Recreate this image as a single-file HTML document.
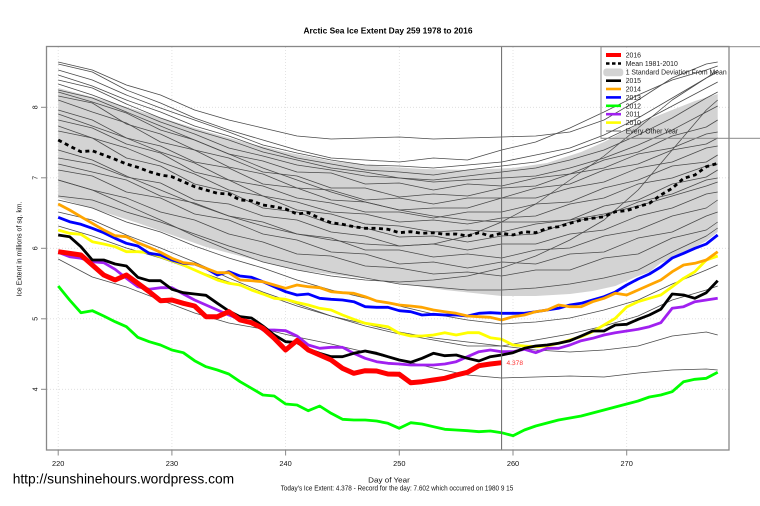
<!DOCTYPE html>
<html><head><meta charset="utf-8"><style>
html,body{margin:0;padding:0;background:#fff;}
svg{display:block;font-family:"Liberation Sans",Arial,sans-serif;}
</style></head><body>
<svg width="760" height="506" viewBox="0 0 760 506" xmlns="http://www.w3.org/2000/svg">
<rect x="0" y="0" width="760" height="506" fill="#fff"/>
<text x="388" y="33.5" font-size="8.4" font-weight="bold" text-anchor="middle" textLength="169" lengthAdjust="spacingAndGlyphs">Arctic Sea Ice Extent Day 259 1978 to 2016</text>
<g stroke="#dcdcdc" stroke-width="0.8" stroke-dasharray="1 2" fill="none">
<line x1="58.2" y1="47" x2="58.2" y2="450"/><line x1="171.9" y1="47" x2="171.9" y2="450"/><line x1="285.6" y1="47" x2="285.6" y2="450"/><line x1="399.3" y1="47" x2="399.3" y2="450"/><line x1="513" y1="47" x2="513" y2="450"/><line x1="626.7" y1="47" x2="626.7" y2="450"/>
<line x1="47" y1="107.3" x2="729" y2="107.3"/><line x1="47" y1="177.8" x2="729" y2="177.8"/><line x1="47" y1="248.3" x2="729" y2="248.3"/><line x1="47" y1="318.8" x2="729" y2="318.8"/><line x1="47" y1="389.3" x2="729" y2="389.3"/>
</g>
<polygon fill="#d3d3d3" points="58.2,88 103.7,100 149.2,114 194.6,128 240.1,141 285.6,152 331.1,161 376.6,166 422,169 467.5,170 513,168 547.1,163 581.2,152 604,142 626.7,130 649.4,119 672.2,110 694.9,101 717.7,94 717.7,232 706.3,241 694.9,247 683.6,254 672.2,259 660.8,263 649.4,272 638.1,276 626.7,281 615.3,286 592.6,291 569.9,294 535.7,296 501.6,296 444.8,290 376.6,280 297,270 274.2,265 206,247 137.8,223 103.7,212 58.2,198"/>
<g fill="none" stroke="#4a4a4a" stroke-width="0.75" stroke-linejoin="round">
<polyline points="58.2,62 92.3,70 126.4,85 160.5,95 194.6,110 228.8,120 262.9,128 297,136 331.1,139 365.2,138 399.3,137 433.4,139 467.5,138 501.6,137 535.7,136 569.9,132 604,120 638.1,100 672.2,78 706.3,64 717.7,62"/>
<polyline points="58.2,64 92.3,72 126.4,90 160.5,103 194.6,118 228.8,130 262.9,140 297,150 331.1,158 365.2,160 399.3,162 433.4,158 467.5,160 501.6,150 535.7,142 569.9,128 604,112 638.1,95 672.2,80 706.3,70 717.7,66"/>
<polyline points="58.2,70 92.3,80 126.4,95 160.5,108 194.6,120 228.8,132 262.9,145 297,153 331.1,160 365.2,165 399.3,166 433.4,168 467.5,165 501.6,162 535.7,155 569.9,148 604,135 638.1,118 672.2,98 706.3,78 717.7,72"/>
<polyline points="58.2,75 92.3,86 126.4,100 160.5,112 194.6,126 228.8,136 262.9,148 297,158 331.1,164 365.2,170 399.3,172 433.4,175 467.5,170 501.6,166 535.7,162 569.9,152 604,140 638.1,124 672.2,106 706.3,88 717.7,82"/>
<polyline points="58.2,80 92.3,88 126.4,104 160.5,118 194.6,130 228.8,140 262.9,152 297,160 331.1,168 365.2,172 399.3,178 433.4,180 467.5,176 501.6,172 535.7,168 569.9,160 604,150 638.1,135 672.2,118 706.3,98 717.7,92"/>
<polyline points="58.2,84 92.3,95 126.4,108 160.5,122 194.6,134 228.8,148 262.9,156 297,165 331.1,170 365.2,176 399.3,178 433.4,182 467.5,180 501.6,178 535.7,176 569.9,168 604,158 638.1,145 672.2,130 706.3,112 717.7,106"/>
<polyline points="58.2,92 92.3,102 126.4,113 160.5,130 194.6,140 228.8,154 262.9,161 297,172 331.1,173 365.2,184 399.3,183 433.4,190 467.5,184 501.6,186 535.7,178 569.9,174 604,160 638.1,152 672.2,136 706.3,127 717.7,120"/>
<polyline points="58.2,96 92.3,103 126.4,124 160.5,134 194.6,150 228.8,158 262.9,172 297,176 331.1,188 365.2,188 399.3,197 433.4,194 467.5,196 501.6,188 535.7,186 569.9,174 604,168 638.1,154 672.2,148 706.3,134 717.7,132"/>
<polyline points="58.2,100 92.3,112 126.4,123 160.5,142 194.6,150 228.8,167 262.9,174 297,188 331.1,190 365.2,200 399.3,198 433.4,204 467.5,198 501.6,198 535.7,188 569.9,184 604,170 638.1,164 672.2,150 706.3,144 717.7,138"/>
<polyline points="58.2,110 92.3,120 126.4,138 160.5,146 194.6,162 228.8,168 262.9,184 297,188 331.1,200 365.2,202 399.3,210 433.4,208 467.5,208 501.6,198 535.7,198 569.9,188 604,182 638.1,168 672.2,162 706.3,148 717.7,146"/>
<polyline points="58.2,114 92.3,126 126.4,138 160.5,152 194.6,163 228.8,180 262.9,186 297,198 331.1,203 365.2,212 399.3,212 433.4,218 467.5,212 501.6,212 535.7,204 569.9,202 604,188 638.1,180 672.2,166 706.3,162 717.7,155"/>
<polyline points="58.2,120 92.3,128 126.4,144 160.5,153 194.6,172 228.8,180 262.9,196 297,202 331.1,212 365.2,214 399.3,222 433.4,220 467.5,224 501.6,218 535.7,216 569.9,204 604,198 638.1,184 672.2,178 706.3,166 717.7,164"/>
<polyline points="58.2,126 92.3,138 126.4,148 160.5,162 194.6,174 228.8,190 262.9,196 297,210 331.1,214 365.2,224 399.3,226 433.4,232 467.5,230 501.6,232 535.7,224 569.9,220 604,206 638.1,200 672.2,184 706.3,177 717.7,170"/>
<polyline points="58.2,131 92.3,138 126.4,158 160.5,166 194.6,184 228.8,192 262.9,208 297,212 331.1,224 365.2,228 399.3,237 433.4,236 467.5,242 501.6,236 535.7,234 569.9,222 604,216 638.1,202 672.2,194 706.3,180 717.7,178"/>
<polyline points="58.2,158 92.3,164 126.4,177 160.5,183 194.6,200 228.8,204 262.9,216 297,220 331.1,232 365.2,236 399.3,246 433.4,244 467.5,250 501.6,244 535.7,244 569.9,234 604,230 638.1,216 672.2,208 706.3,194 717.7,192"/>
<polyline points="58.2,164 92.3,172 126.4,180 160.5,196 194.6,203 228.8,216 262.9,222 297,234 331.1,238 365.2,250 399.3,250 433.4,257 467.5,254 501.6,258 535.7,250 569.9,248 604,236 638.1,230 672.2,216 706.3,208 717.7,200"/>
<polyline points="58.2,170 92.3,176 126.4,192 160.5,198 194.6,214 228.8,220 262.9,234 297,240 331.1,252 365.2,254 399.3,264 433.4,262 467.5,268 501.6,262 535.7,264 569.9,254 604,252 638.1,238 672.2,232 706.3,216 717.7,212"/>
<polyline points="58.2,180 92.3,190 126.4,198 160.5,212 194.6,220 228.8,234 262.9,242 297,254 331.1,256 365.2,266 399.3,268 433.4,274 467.5,272 501.6,276 535.7,270 569.9,270 604,258 638.1,254 672.2,238 706.3,230 717.7,222"/>
<polyline points="58.2,180 92.3,190 126.4,205 160.5,220 194.6,236 228.8,250 262.9,262 297,270 331.1,276 365.2,280 399.3,282 433.4,280 467.5,276 501.6,268 535.7,256 569.9,240 604,220 638.1,190 672.2,150 706.3,110 717.7,100"/>
<polyline points="58.2,150 92.3,160 126.4,176 160.5,190 194.6,204 228.8,216 262.9,226 297,234 331.1,240 365.2,244 399.3,246 433.4,244 467.5,236 501.6,222 535.7,204 569.9,180 604,156 638.1,128 672.2,100 706.3,78 717.7,70"/>
<polyline points="58.2,90 92.3,98 126.4,112 160.5,126 194.6,140 228.8,154 262.9,168 297,180 331.1,192 365.2,202 399.3,210 433.4,216 467.5,220 501.6,222 535.7,222 569.9,220 604,214 638.1,206 672.2,196 706.3,186 717.7,182"/>
<polyline points="58.2,196 92.3,200 126.4,212 160.5,222 194.6,234 228.8,246 262.9,256 297,264 331.1,272 365.2,278 399.3,284 433.4,287 467.5,290 501.6,290 535.7,288 569.9,284 604,278 638.1,270 672.2,252 706.3,236 717.7,228"/>
<polyline points="58.2,200 92.3,208 126.4,222 160.5,232 194.6,246 228.8,258 262.9,268 297,280 331.1,290 365.2,298 399.3,306 433.4,314 467.5,320 501.6,324 535.7,322 569.9,318 604,310 638.1,300 672.2,284 706.3,270 717.7,265"/>
<polyline points="58.2,212 92.3,220 126.4,235 160.5,248 194.6,262 228.8,278 262.9,292 297,304 331.1,316 365.2,326 399.3,334 433.4,340 467.5,346 501.6,346 535.7,340 569.9,334 604,326 638.1,316 672.2,300 706.3,290 717.7,286"/>
<polyline points="58.2,259 92.3,277 126.4,287 160.5,300 194.6,313 228.8,323 262.9,329 297,337 331.1,344 365.2,352 399.3,360 433.4,368 467.5,375 501.6,378 535.7,377 569.9,376 604,377 638.1,373 672.2,370 706.3,369 717.7,370"/>
<polyline points="58.2,226 92.3,236 126.4,248 160.5,258 194.6,270 228.8,282 262.9,294 297,306 331.1,316 365.2,324 399.3,332 433.4,338 467.5,342 501.6,346 535.7,350 569.9,352 604,350 638.1,346 672.2,336 706.3,332 717.7,335"/>
</g>
<polyline fill="none" stroke="#000" stroke-width="2.8" stroke-dasharray="4 3.5" points="58.2,140 69.6,146 80.9,151.7 92.3,150.7 103.7,155 115.1,159.3 126.4,164 137.8,167.3 149.2,171.7 160.5,175 171.9,176.7 183.3,181.7 194.6,186.7 206,190 217.4,193.3 228.8,194 240.1,200 251.5,200.7 262.9,205 274.2,206.7 285.6,209 297,214 308.3,212.7 319.7,218.3 331.1,222.7 342.5,224.3 353.8,226.7 365.2,228.3 376.6,228.3 387.9,229.3 399.3,232.7 410.7,231.7 422,233.3 433.4,232.7 444.8,234.3 456.2,234 467.5,236 478.9,232.7 490.3,236 501.6,233.3 513,235 524.4,231.7 535.7,232.7 547.1,228.3 558.5,226.7 569.9,223.3 581.2,220 592.6,218.3 604,216.7 615.3,211.7 626.7,210.7 638.1,206.7 649.4,203.3 660.8,195 672.2,188.3 683.6,178.3 694.9,175 706.3,166.7 717.7,163.3"/>
<g fill="none" stroke-linejoin="round" stroke-width="2.8">
<polyline stroke="#ffff00" points="58.2,230 69.6,233.3 80.9,234.3 92.3,241.7 103.7,244 115.1,246.7 126.4,251.7 137.8,251.7 149.2,252.7 160.5,256.7 171.9,260.7 183.3,265 194.6,270 206,275 217.4,280 228.8,283.3 240.1,285 251.5,290 262.9,294 274.2,298.3 285.6,299.3 297,302.5 308.3,305 319.7,308.3 331.1,310 342.5,315 353.8,319.3 365.2,323.3 376.6,325 387.9,326.7 399.3,333.3 410.7,336 422,336 433.4,335 444.8,332.7 456.2,335 467.5,332.7 478.9,332.7 490.3,337.7 501.6,339.3 513,345 524.4,346 535.7,346.7 547.1,346 558.5,343.3 569.9,340 581.2,336.7 592.6,331.7 604,325 615.3,318.3 626.7,307 638.1,301.7 649.4,298.3 660.8,295 672.2,286.7 683.6,278.3 694.9,271.7 706.3,260 717.7,256"/>
<polyline stroke="#a020f0" points="58.2,252.3 69.6,256.7 80.9,258.3 92.3,261.7 103.7,262.7 115.1,269.3 126.4,278.3 137.8,286.7 149.2,289.3 160.5,287.7 171.9,287.7 183.3,294 194.6,300 206,305 217.4,310 228.8,315 240.1,319.3 251.5,321.7 262.9,330 274.2,330 285.6,330.7 297,336 308.3,345 319.7,348.3 331.1,347.3 342.5,347.3 353.8,353.3 365.2,358.3 376.6,361.7 387.9,363.3 399.3,364 410.7,365 422,365 433.4,365 444.8,364 456.2,361.7 467.5,356.7 478.9,351.7 490.3,350 501.6,351.7 513,351.7 524.4,349.3 535.7,352.7 547.1,348.3 558.5,348.3 569.9,345 581.2,340.7 592.6,338.3 604,335 615.3,332.7 626.7,331 638.1,329.3 649.4,326.7 660.8,322.7 672.2,308.3 683.6,306.7 694.9,301.7 706.3,300 717.7,298.3"/>
<polyline stroke="#00ff00" points="58.2,286 69.6,300 80.9,312.7 92.3,310.7 103.7,316 115.1,321.7 126.4,326.7 137.8,337.3 149.2,341.7 160.5,345 171.9,350 183.3,352.7 194.6,360.7 206,366.7 217.4,370 228.8,374 240.1,381.7 251.5,388.3 262.9,395 274.2,396 285.6,404 297,405 308.3,410.7 319.7,406 331.1,413.3 342.5,419.3 353.8,420 365.2,420 376.6,421 387.9,423.3 399.3,428.3 410.7,422.7 422,424 433.4,426.7 444.8,429.3 456.2,430 467.5,430.7 478.9,431.7 490.3,431 501.6,432.7 513,435.7 524.4,430 535.7,426 547.1,423 558.5,420 569.9,418 581.2,416 592.6,413 604,410 615.3,407 626.7,404 638.1,401 649.4,397 660.8,395 672.2,391.7 683.6,381.7 694.9,379.3 706.3,378.3 717.7,372.3"/>
<polyline stroke="#0000ff" points="58.2,217.3 69.6,221.7 80.9,224.3 92.3,228.3 103.7,232.7 115.1,238.3 126.4,243.3 137.8,246 149.2,253.3 160.5,255 171.9,260 183.3,263.3 194.6,264 206,268.3 217.4,275 228.8,271.7 240.1,276 251.5,277.3 262.9,281.7 274.2,286.7 285.6,291.7 297,295 308.3,294 319.7,298.3 331.1,299.3 342.5,300 353.8,301.7 365.2,306.7 376.6,307.3 387.9,307.3 399.3,310.7 410.7,311.7 422,315 433.4,314.3 444.8,315 456.2,315 467.5,316 478.9,313.3 490.3,312.7 501.6,313.3 513,313.3 524.4,313.3 535.7,311.7 547.1,310 558.5,308.3 569.9,305 581.2,303.3 592.6,300 604,296.7 615.3,292 626.7,285 638.1,279 649.4,274 660.8,267 672.2,258 683.6,253.3 694.9,248.3 706.3,244 717.7,235"/>
<polyline stroke="#ffa500" points="58.2,204 69.6,210 80.9,216.7 92.3,223.3 103.7,230 115.1,235.7 126.4,236.7 137.8,242.7 149.2,247.3 160.5,252.3 171.9,258.3 183.3,262.7 194.6,264 206,268.3 217.4,272.7 228.8,272.7 240.1,280 251.5,280.7 262.9,281.7 274.2,285 285.6,288.3 297,285 308.3,286.7 319.7,287.7 331.1,291.7 342.5,292.7 353.8,293.3 365.2,296.7 376.6,301 387.9,302.7 399.3,305 410.7,306 422,307.3 433.4,310 444.8,311.7 456.2,313.3 467.5,316 478.9,316.7 490.3,317.3 501.6,320 513,316.7 524.4,315 535.7,311.7 547.1,310 558.5,305 569.9,306.7 581.2,306.7 592.6,301.7 604,298.3 615.3,293.3 626.7,295 638.1,290 649.4,285 660.8,280 672.2,271.7 683.6,265 694.9,263.3 706.3,260 717.7,251.7"/>
<polyline stroke="#000000" points="58.2,235 69.6,236.7 80.9,246.7 92.3,260 103.7,260 115.1,264 126.4,266 137.8,277.3 149.2,280.7 160.5,280.7 171.9,289.3 183.3,292.7 194.6,294 206,295.3 217.4,303.3 228.8,311 240.1,316.7 251.5,318 262.9,326 274.2,335 285.6,341.7 297,342.5 308.3,349.3 319.7,353.3 331.1,356.7 342.5,356.7 353.8,353.3 365.2,351 376.6,353.3 387.9,356.7 399.3,360 410.7,362.3 422,358.3 433.4,353.3 444.8,355.7 456.2,355 467.5,358.3 478.9,361 490.3,356.7 501.6,355 513,352.7 524.4,348.3 535.7,346 547.1,345 558.5,343.3 569.9,340.7 581.2,336 592.6,331 604,331 615.3,325 626.7,324.3 638.1,319.3 649.4,315 660.8,309.3 672.2,294 683.6,295 694.9,298.3 706.3,292.7 717.7,280.7"/>
<polyline stroke="#ff0000" stroke-width="5" points="58.2,251.7 69.6,253.3 80.9,255 92.3,265 103.7,275 115.1,280 126.4,275 137.8,283.3 149.2,291.7 160.5,300.7 171.9,300 183.3,303.3 194.6,306 206,316.7 217.4,316.7 228.8,311.7 240.1,320 251.5,322.7 262.9,328.3 274.2,338.3 285.6,350 297,340.5 308.3,350 319.7,355 331.1,360 342.5,368.3 353.8,373.3 365.2,370.7 376.6,371 387.9,374 399.3,374.3 410.7,382.7 422,381.7 433.4,380 444.8,378.3 456.2,375 467.5,372.3 478.9,365.7 490.3,364 501.6,362.7"/>
</g>
<text x="506.5" y="365.2" font-size="6.8" fill="#ff3030" textLength="16.5" lengthAdjust="spacingAndGlyphs">4.378</text>
<line x1="501.6" y1="47" x2="501.6" y2="450" stroke="#666" stroke-width="1"/>
<rect x="601" y="46.7" width="180" height="91.6" fill="none" stroke="#888" stroke-width="1"/>
<g stroke-linecap="butt">
<line x1="606" y1="55" x2="621" y2="55" stroke="#ff0000" stroke-width="4"/>
<line x1="606" y1="63.5" x2="621" y2="63.5" stroke="#000" stroke-width="2.6" stroke-dasharray="3.5 2.5"/>
<rect x="603.3" y="68.5" width="20" height="7.8" rx="3" fill="#d3d3d3"/>
<line x1="606" y1="80.7" x2="621" y2="80.7" stroke="#000" stroke-width="2.6"/>
<line x1="606" y1="89" x2="621" y2="89" stroke="#ffa500" stroke-width="2.6"/>
<line x1="606" y1="97.4" x2="621" y2="97.4" stroke="#0000ff" stroke-width="2.6"/>
<line x1="606" y1="105.8" x2="621" y2="105.8" stroke="#00ff00" stroke-width="2.6"/>
<line x1="606" y1="114.2" x2="621" y2="114.2" stroke="#a020f0" stroke-width="2.6"/>
<line x1="606" y1="122.6" x2="621" y2="122.6" stroke="#ffff00" stroke-width="2.6"/>
<line x1="606" y1="131" x2="621" y2="131" stroke="#444" stroke-width="0.8"/>
</g>
<g font-size="6.9" fill="#222">
<text x="625.7" y="57.5">2016</text>
<text x="625.7" y="66">Mean 1981-2010</text>
<text x="625.7" y="74.7" textLength="101" lengthAdjust="spacingAndGlyphs">1 Standard Deviation From Mean</text>
<text x="625.7" y="83.2">2015</text>
<text x="625.7" y="91.5">2014</text>
<text x="625.7" y="99.9">2013</text>
<text x="625.7" y="108.3">2012</text>
<text x="625.7" y="116.7">2011</text>
<text x="625.7" y="125.1">2010</text>
<text x="625.7" y="133.5">Every Other Year</text>
</g>
<rect x="46.5" y="46.5" width="682.5" height="403.5" fill="none" stroke="#888" stroke-width="1.3"/>
<g stroke="#888" stroke-width="1">
<line x1="41" y1="107.3" x2="46.5" y2="107.3"/><line x1="41" y1="177.8" x2="46.5" y2="177.8"/><line x1="41" y1="248.3" x2="46.5" y2="248.3"/><line x1="41" y1="318.8" x2="46.5" y2="318.8"/><line x1="41" y1="389.3" x2="46.5" y2="389.3"/>
<line x1="58.2" y1="450" x2="58.2" y2="455.5"/><line x1="171.9" y1="450" x2="171.9" y2="455.5"/><line x1="285.6" y1="450" x2="285.6" y2="455.5"/><line x1="399.3" y1="450" x2="399.3" y2="455.5"/><line x1="513" y1="450" x2="513" y2="455.5"/><line x1="626.7" y1="450" x2="626.7" y2="455.5"/>
</g>
<g font-size="7" text-anchor="middle" fill="#111">
<text x="37.5" y="107.3" transform="rotate(-90 37.5 107.3)">8</text>
<text x="37.5" y="177.8" transform="rotate(-90 37.5 177.8)">7</text>
<text x="37.5" y="248.3" transform="rotate(-90 37.5 248.3)">6</text>
<text x="37.5" y="318.8" transform="rotate(-90 37.5 318.8)">5</text>
<text x="37.5" y="389.3" transform="rotate(-90 37.5 389.3)">4</text>
</g>
<g font-size="7.4" text-anchor="middle" fill="#111">
<text x="58.2" y="466">220</text><text x="171.9" y="466">230</text><text x="285.6" y="466">240</text><text x="399.3" y="466">250</text><text x="513" y="466">260</text><text x="626.7" y="466">270</text>
</g>
<text x="21.5" y="249" font-size="6.9" text-anchor="middle" fill="#111" transform="rotate(-90 21.5 249)" textLength="95" lengthAdjust="spacingAndGlyphs">Ice Extent in millions of sq. km.</text>
<text x="389" y="482.7" font-size="7.6" text-anchor="middle" fill="#111" textLength="41.7" lengthAdjust="spacingAndGlyphs">Day of Year</text>
<text x="397" y="490.3" font-size="7" text-anchor="middle" fill="#111" textLength="232.6" lengthAdjust="spacingAndGlyphs">Today's Ice Extent: 4.378  - Record for the day: 7.602 which occurred on 1980 9 15</text>
<text x="12.7" y="483.5" font-size="13.8" fill="#000" textLength="221.5" lengthAdjust="spacingAndGlyphs">http://sunshinehours.wordpress.com</text>
</svg>
</body></html>
